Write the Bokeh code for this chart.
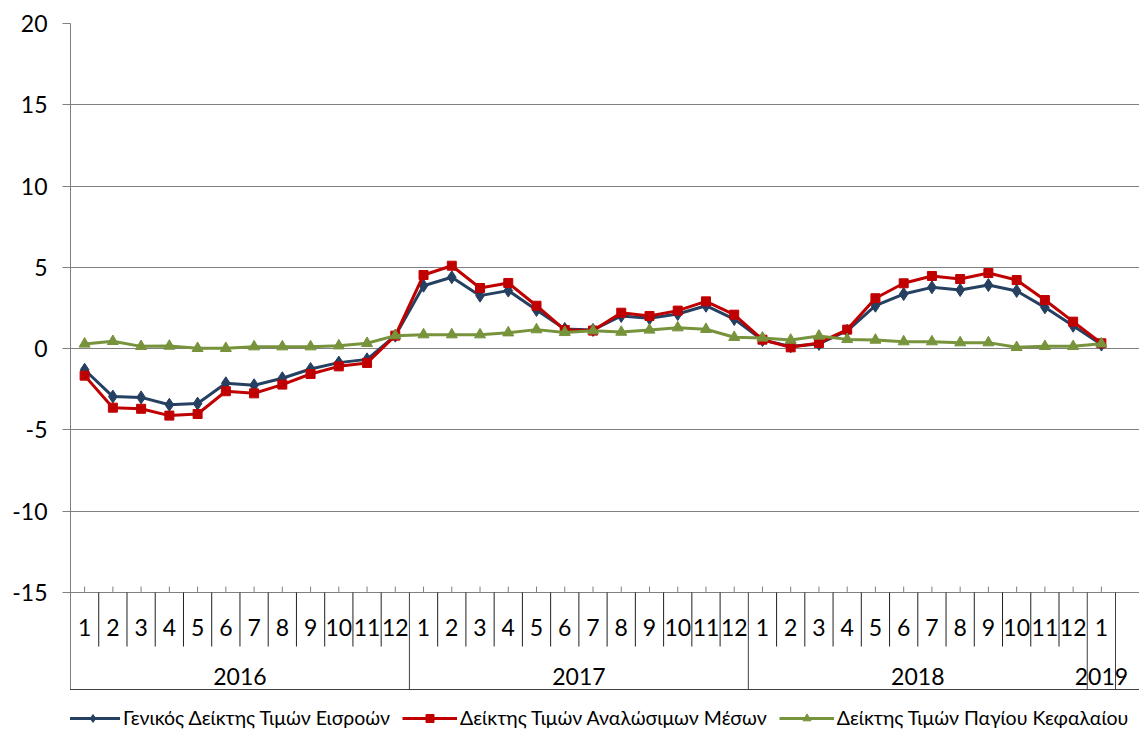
from bokeh.plotting import figure
from bokeh.layouts import column
from bokeh.models import Range1d, FixedTicker, Legend, LegendItem, ColumnDataSource
from bokeh.core.properties import value
from bokeh.embed import file_html
from bokeh.resources import INLINE

years = ["2016", "2017", "2018", "2019"]
months_per_year = [12, 12, 12, 1]
month_labels = [str(m) for n in months_per_year for m in range(1, n + 1)]

general = [-1.30, -2.95, -3.00, -3.45, -3.38, -2.13, -2.25, -1.82, -1.25, -0.86, -0.66, 0.80,
           3.87, 4.39, 3.26, 3.57, 2.38, 1.21, 1.15, 2.01, 1.87, 2.13, 2.64, 1.82,
           0.53, 0.14, 0.29, 1.10, 2.64, 3.36, 3.77, 3.61, 3.91, 3.55, 2.54, 1.41,
           0.25]
consumables = [-1.66, -3.63, -3.70, -4.12, -4.02, -2.62, -2.75, -2.21, -1.56, -1.09, -0.88, 0.80,
               4.53, 5.10, 3.73, 4.04, 2.64, 1.15, 1.11, 2.21, 2.01, 2.34, 2.91, 2.09,
               0.55, 0.08, 0.35, 1.17, 3.10, 4.02, 4.47, 4.28, 4.65, 4.22, 2.99, 1.66,
               0.33]
capital = [0.29, 0.45, 0.14, 0.16, 0.02, 0.02, 0.12, 0.12, 0.12, 0.18, 0.33, 0.80,
           0.86, 0.86, 0.86, 0.98, 1.17, 1.00, 1.10, 1.02, 1.15, 1.29, 1.19, 0.70,
           0.66, 0.53, 0.78, 0.57, 0.53, 0.43, 0.43, 0.37, 0.37, 0.08, 0.14, 0.14,
           0.30]

names = ["Γενικός Δείκτης Τιμών Εισροών",
         "Δείκτης Τιμών Αναλώσιμων Μέσων",
         "Δείκτης Τιμών Παγίου Κεφαλαίου"]

y_ticks = [-15, -10, -5, 0, 5, 10, 15, 20]

FONT = "Lato"
n = len(month_labels)
xs = [i + 0.5 for i in range(n)]

# layout constants (pixels)
W, H1, H2 = 1139, 689, 53
left, top = 70, 23
frame_w = W - left
px_per_cat = 1045 / n
x_end = frame_w / px_per_cat
frame_h = H1 - top
px_per_unit = 569 / (y_ticks[-1] - y_ticks[0])
y_low = y_ticks[-1] - frame_h / px_per_unit
u = 1 / px_per_unit  # one pixel in y data units

p = figure(width=W, height=H1, output_backend="svg", toolbar_location=None,
           x_range=Range1d(0, x_end), y_range=Range1d(y_low, y_ticks[-1]),
           x_axis_location=None, min_border_left=left, min_border_top=top,
           min_border_right=0, min_border_bottom=0)
p.outline_line_color = None
p.background_fill_color = "white"
p.border_fill_color = "white"

base = y_ticks[0]

# y axis
p.yaxis.ticker = FixedTicker(ticks=y_ticks)
p.yaxis.major_label_overrides = {t: str(t) for t in y_ticks}
p.yaxis.minor_tick_line_color = None
p.yaxis.major_tick_in = 0
p.yaxis.major_tick_out = 8
p.yaxis.major_tick_line_color = "#808080"
p.yaxis.axis_line_color = "#808080"
p.yaxis.major_label_text_font = FONT
p.yaxis.major_label_text_font_size = "23px"
p.yaxis.major_label_text_color = "black"
p.yaxis.major_label_standoff = 15

p.xgrid.visible = False
p.ygrid.ticker = FixedTicker(ticks=y_ticks)
p.ygrid.grid_line_color = "#808080"
p.ygrid.grid_line_width = 1
p.ygrid.bounds = (0, n)

# x axis tick marks pointing up at category centres
p.segment(x0=xs, x1=xs, y0=[base] * n, y1=[base + 6 * u] * n, line_color="#808080", line_width=1)

# month separators and year separators
year_bounds = [0]
for k in months_per_year:
    year_bounds.append(year_bounds[-1] + k)
month_sep = [k for k in range(1, n) if k not in year_bounds]
p.segment(x0=month_sep, x1=month_sep, y0=[base] * len(month_sep),
          y1=[base - 54 * u] * len(month_sep), line_color="#202020", line_width=1)
ysep = year_bounds[1:]
p.segment(x0=ysep, x1=ysep, y0=[base] * len(ysep), y1=[y_low] * len(ysep),
          line_color="#404040", line_width=1)

p.text(x=xs, y=[base - 35 * u] * n, text=month_labels, text_align="center",
       text_baseline="middle", text_font=value(FONT), text_font_size="23px", text_color="black")
year_x = [(year_bounds[i] + year_bounds[i + 1]) / 2 for i in range(len(years))]
p.text(x=year_x, y=[base - 84 * u] * len(years), text=years, text_align="center",
       text_baseline="middle", text_font=value(FONT), text_font_size="23px", text_color="black")

colors = ["#254061", "#C00000", "#77933C"]
markers = ["diamond", "square", "triangle"]
sizes = [13, 9, 11]
series = [general, consumables, capital]
for ys, c, mk, sz in zip(series, colors, markers, sizes):
    src = ColumnDataSource(dict(x=xs, y=ys))
    p.line("x", "y", source=src, line_color=c, line_width=3)
    p.scatter("x", "y", source=src, marker=mk, size=sz, fill_color=c, line_color=c)

# legend strip below the chart (legend renderers kept outside the strip's visible range)
p2 = figure(width=W, height=H2, output_backend="svg", toolbar_location=None,
            x_range=Range1d(0, 1), y_range=Range1d(0, 1),
            x_axis_location=None, y_axis_location=None,
            min_border_left=left, min_border_top=0, min_border_right=0, min_border_bottom=0)
p2.outline_line_color = None
p2.xgrid.visible = False
p2.ygrid.visible = False
p2.border_fill_color = "white"
items = []
for name, ys, c, mk, sz in zip(names, series, colors, markers, sizes):
    src2 = ColumnDataSource(dict(x=xs, y=ys))
    l = p2.line("x", "y", source=src2, line_color=c, line_width=3)
    s = p2.scatter("x", "y", source=src2, marker=mk, size=sz * 0.8, fill_color=c, line_color=c)
    items.append(LegendItem(label=name, renderers=[l, s]))
p2.y_range = Range1d(100, 101)

legend = Legend(items=items, orientation="horizontal", location=(-22, -4),
                label_text_font=FONT, label_text_font_size="19.5px", label_text_color="black",
                glyph_width=55, glyph_height=20, label_standoff=3, spacing=12,
                padding=16, margin=0, border_line_color="#404040", border_line_width=1,
                border_line_alpha=1, background_fill_alpha=1)
p2.add_layout(legend, "center")

layout = column(p, p2, spacing=0)
open("out.html", "w").write(file_html(layout, INLINE))
